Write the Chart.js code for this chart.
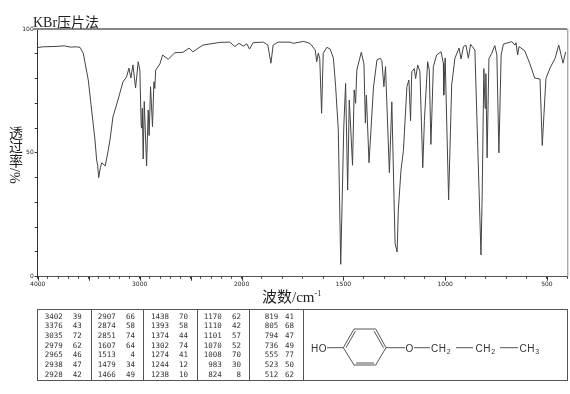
<!DOCTYPE html>
<html>
<head>
<meta charset="utf-8">
<script src="https://cdn.jsdelivr.net/npm/chart.js@4"></script>
<style>
body { margin:0; background:#fff; }
#page { position:relative; width:570px; height:394px; overflow:hidden; }
#page canvas { position:absolute; left:0; top:0; }
.lbl { position:absolute; color:#222; font-family:"Liberation Serif","Noto Sans CJK SC",serif; white-space:nowrap; }
.cell { position:absolute; font:7.5px "DejaVu Sans Mono",monospace; color:#333; text-align:right; line-height:10px; }
.box { position:absolute; border:1px solid #555; box-sizing:border-box; }
svg { position:absolute; left:0; top:0; }
svg text { font-family:"Liberation Sans",sans-serif; font-size:10px; fill:#333; letter-spacing:.6px; }
svg line { stroke:#555; stroke-width:1; }
</style>
</head>
<body>
<div id="page">
	<canvas id="irChart" width="570" height="394"></canvas>
	<div class="lbl" style="left:33px;top:11px;font-size:14px;">KBr压片法</div>
	<div class="lbl" style="left:6px;top:126px;font-size:14px;writing-mode:vertical-rl;line-height:16px;">透过率/%</div>
	<div class="lbl" style="left:262px;top:285px;font-size:15px;">波数/cm<sup style="font-size:8px;line-height:0;">-1</sup></div>
	<div id="peakTable"></div>
	<svg width="570" height="394">
		<line x1="343.3" y1="347.7" x2="354" y2="329"/><line x1="354" y1="329" x2="375.7" y2="329"/>
		<line x1="375.7" y1="329" x2="386" y2="347.7"/><line x1="386" y1="347.7" x2="375.7" y2="365"/>
		<line x1="375.7" y1="365" x2="354" y2="365"/><line x1="354" y1="365" x2="343.3" y2="347.7"/>
		<line x1="346" y1="347.7" x2="355.5" y2="331"/><line x1="374" y1="331" x2="383.5" y2="347.7"/>
		<line x1="356" y1="363" x2="374" y2="363"/>
		<line x1="327" y1="347.7" x2="343.3" y2="347.7"/><line x1="386" y1="347.7" x2="405" y2="347.7"/>
		<line x1="414" y1="347.7" x2="430" y2="347.7"/><line x1="456" y1="347.7" x2="473" y2="347.7"/>
		<line x1="500" y1="347.7" x2="518" y2="347.7"/>
		<text x="311" y="351.5">HO</text><text x="405.5" y="351.5">O</text>
		<text x="431" y="351.5">CH<tspan font-size="7" dy="2">2</tspan></text>
		<text x="475.5" y="351.5">CH<tspan font-size="7" dy="2">2</tspan></text>
		<text x="519.5" y="351.5">CH<tspan font-size="7" dy="2">3</tspan></text>
	</svg>
</div>
<script>
// 스펙트럼 데이터 (파수 / 투과율)
const waveNumbers = [4000,3950,3800,3740,3680,3620,3585,3553,3504,3471,3438,3422,3412,3402,3385,3372,3338,3308,3291,3262,3213,3164,3128,3105,3086,3066,3040,3014,2998,2985,2979,2974,2965,2955,2932,2916,2907,2893,2874,2860,2851,2843,2801,2775,2720,2655,2575,2516,2478,2380,2213,2115,2066,2027,
	1991,1974,1961,1943,1893,1871,1856,1845,1820,1762,1746,1696,1664,1638,1631,1623,1616,1607,1599,1581,1565,1549,1538,1525,1513,1498,1489,1479,1471,1455,1447,1440,1434,1412,1399,1392,1387,1374,1352,1335,1319,1311,1301,1293,1274,1262,1251,1246,1236,1230,1217,1205,1188,1178,1170,1164,1152,1145,1135,1124,1110,1102,1086,1078,1070,1058,1042,1020,1009,1007,1000,983,968,952,932,922,910,898,886,875,854,824,818,810,804,800,794,785,772,756,746,736,725,714,673,657,652,644,637,609,585,560,534,523,515,505,485,460,442,421,408];
const transmittance = [92.5,92.8,93.0,93.2,92.7,92.8,92.6,90.2,79.4,67.3,55.2,47.1,45,40,44,46,44.7,51,55.2,64.5,71.3,78.6,80.7,84.2,80.2,85.5,76.2,86.8,83.4,61.2,60,68,47.5,70.7,44.7,67.3,57,76.7,60.6,78.7,76,83.4,85.9,89.5,87.8,90.4,90.6,92.3,90.8,93.5,94.6,94.7,92.9,94.2,
	93.1,94,91.9,94.5,94.7,93.5,86.2,93.5,94.7,94.7,94.2,95,94.2,91.5,86.8,90.3,88,66,90.2,92.6,91.9,88.2,76.7,59.2,5,60.6,78,35,71.3,45,75.4,70,83.4,90.6,86,62,73.3,46,76.6,87.5,88.2,87.2,76.7,84.8,42,70.6,31,13.5,10,27,43,51,76.7,79.4,63,82.8,84,80,85.5,82.8,44,63,86.8,83.4,53.4,84.8,89.5,90.8,86.2,73.3,88.3,31,77.4,88.2,92.3,87.9,92.9,93.5,88.2,93.8,91.5,8.8,33.8,84,68,82,48,88,90,93.3,89.5,50,89.5,93.9,94.9,93.5,94.5,89.5,92.9,91.2,86.2,80.2,79.8,53,65,80,84.2,88.2,93.5,86.2,90.7];

// 피크 표
const peakWaves = [3402,3376,3035,2979,2965,2938,2928, 2907,2874,2851,1607,1513,1479,1466, 1438,1393,1374,1302,1274,1244,1238, 1170,1110,1101,1070,1008,983,824, 819,805,794,736,555,523,512];
const peakValues = [39,43,72,62,46,47,42, 66,58,74,64,4,34,49, 70,58,44,74,41,12,10, 62,42,57,52,70,30,8, 41,68,47,49,77,50,62];

// 축 눈금
const xTickValues = [4000,3900,3800,3700,3600,3500,3400,3300,3200,3100,3000,2900,2800,2700,2600,2500,2400,2300,2200,2100,2000,1900,1800,1700,1600,1500,1400,1300,1200,1100,1000,900,800,700,600,500,400];
const xMajorTicks = [4000,3500,3000,2500,2000,1500,1000,500];
const xTickLabels = [4000,3000,2000,1500,1000,500];
const yTickLabels = [0,50,100];

// 2000 에서 눈금 간격이 두배로 바뀌는 x축
class IrScale extends Chart.LinearScale {
	static id = 'irscale';
	static defaults = Chart.LinearScale.defaults;
	buildTicks() {
		return xTickValues.map(v => ({ value: v }));
	}
	getPixelForValue(value) {
		const split = 0.385;
		const frac = value >= 2000
			? (4000 - value) / 2000 * split
			: split + (2000 - value) / 1600 * (1 - split);
		return this.left + frac * this.width;
	}
}
Chart.register(IrScale);

const framePlugin = {
	id: 'framePlugin',
	afterDraw(chart) {
		const { ctx, chartArea, scales } = chart;
		ctx.save();
		// 위, 오른쪽 테두리
		ctx.strokeStyle = '#888';
		ctx.lineWidth = 2;
		ctx.beginPath();
		ctx.moveTo(33, chartArea.top);
		ctx.lineTo(chartArea.right, chartArea.top);
		ctx.stroke();
		ctx.lineWidth = 1;
		ctx.beginPath();
		ctx.moveTo(chartArea.right + 0.5, chartArea.top);
		ctx.lineTo(chartArea.right + 0.5, chartArea.bottom);
		ctx.stroke();
		// 500 단위 긴 눈금
		ctx.strokeStyle = '#333';
		ctx.beginPath();
		xMajorTicks.forEach(v => {
			const px = Math.round(scales.x.getPixelForValue(v)) + 0.5;
			ctx.moveTo(px, chartArea.bottom);
			ctx.lineTo(px, chartArea.bottom + 4);
		});
		ctx.stroke();
		ctx.restore();
	}
};

new Chart(document.getElementById('irChart'), {
	type: 'line',
	data: {
		datasets: [{
			data: waveNumbers.map((w, i) => ({ x: w, y: transmittance[i] })),
			borderColor: '#444',
			borderWidth: 1,
			pointRadius: 0,
			tension: 0
		}]
	},
	options: {
		responsive: false,
		animation: false,
		layout: { padding: { top: 29, right: 2.7, left: 0, bottom: 0 } },
		plugins: { legend: { display: false }, tooltip: { enabled: false } },
		scales: {
			x: {
				type: 'irscale',
				min: 400,
				max: 4000,
				afterFit(scale) { scale.height = 394 - 276.7 - 0; },
				border: { color: '#555', width: 1 },
				grid: { drawOnChartArea: false, tickLength: 2, tickColor: '#333' },
				ticks: {
					autoSkip: false,
					maxRotation: 0,
					padding: 2,
					color: '#222',
					font: { family: 'DejaVu Sans', size: 6 },
					callback: v => xTickLabels.includes(v) ? String(v) : ''
				}
			},
			y: {
				min: 0,
				max: 100,
				afterFit(scale) { scale.width = 37.7; },
				border: { color: '#333', width: 1 },
				grid: { drawOnChartArea: false, tickLength: 3, tickColor: '#333' },
				ticks: {
					stepSize: 10,
					padding: 1,
					color: '#222',
					font: { family: 'DejaVu Sans', size: 6 },
					callback: v => yTickLabels.includes(v) ? String(v) : ''
				}
			}
		}
	},
	plugins: [framePlugin]
});

// 피크 표 그리기
const tableEl = document.getElementById('peakTable');
const colEdges = [37, 90.7, 143.3, 197, 249.3, 302.7, 567.3];
const waveRight = [62.7, 115.7, 169, 221.7, 278.3];
const valueRight = [81.7, 135, 188, 241, 294];
for (let c = 0; c < colEdges.length - 1; c++) {
	const box = document.createElement('div');
	box.className = 'box';
	box.style.cssText = `left:${colEdges[c]}px;top:309px;width:${colEdges[c + 1] - colEdges[c] + 1}px;height:72px;`;
	tableEl.appendChild(box);
}
peakWaves.forEach((w, i) => {
	const col = Math.floor(i / 7);
	const top = 311.7 + (i % 7) * 9.65;
	[[w, waveRight[col]], [peakValues[i], valueRight[col]]].forEach(([txt, right]) => {
		const el = document.createElement('div');
		el.className = 'cell';
		el.textContent = txt;
		el.style.left = (right - 30) + 'px';
		el.style.width = '30px';
		el.style.top = top + 'px';
		tableEl.appendChild(el);
	});
});
</script>
</body>
</html>
